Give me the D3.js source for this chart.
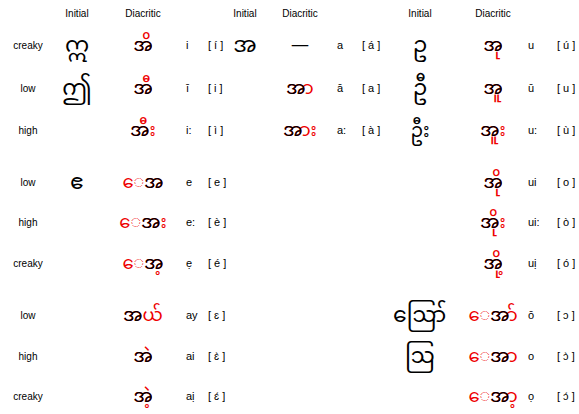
<!DOCTYPE html><html><head><meta charset="utf-8"><script src="https://cdn.jsdelivr.net/npm/d3@7"></script>
<style>body{margin:0;background:#fff}text{font-family:Arial,"Liberation Sans",sans-serif}</style></head><body>
<script>
const headers=[["Initial",77],["Diacritic",143],["Initial",245],["Diacritic",300],["Initial",420],["Diacritic",493]];
const rowLabels=["creaky","low","high","low","high","creaky","low","high","creaky"];
const rowY=[45,88,130,182,222,263,315,356,396];
// [row, group, initial, diacritic full text, roman, ipa]
const cells=[
[0,0,"ဣ","အိ","i","[ í ]"],
[1,0,"ဤ","အီ","ī","[ i ]"],
[2,0,"","အီး","i:","[ ì ]"],
[3,0,"ဧ","ေအ","e","[ e ]"],
[4,0,"","ေအး","e:","[ è ]"],
[5,0,"","ေအ့","ẹ","[ é ]"],
[6,0,"","အယ်","ay","[ ɛ ]"],
[7,0,"","အဲ","ai","[ ɛ̀ ]"],
[8,0,"","အဲ့","aị","[ ɛ́ ]"],
[0,1,"အ","—","a","[ á ]"],
[1,1,"","အာ","ā","[ a ]"],
[2,1,"","အား","a:","[ à ]"],
[0,2,"ဥ","အု","u","[ ú ]"],
[1,2,"ဦ","အူ","ū","[ u ]"],
[2,2,"ဦး","အူး","u:","[ ù ]"],
[3,2,"","အို","ui","[ o ]"],
[4,2,"","အိုး","ui:","[ ò ]"],
[5,2,"","အို့","uị","[ ó ]"],
[6,2,"ဪ","ေအာ်","ō","[ ɔ ]"],
[7,2,"ဩ","ေအာ","o","[ ɔ̀ ]"],
[8,2,"","ေအာ့","ọ","[ ɔ́ ]"]
];
const groupX=[{ini:77,dia:143,rom:186,ipa:208},{ini:245,dia:300,rom:337,ipa:362},{ini:420,dia:493,rom:528,ipa:557}];
const svg=d3.select("body").append("svg").attr("width",579).attr("height",414);
const y=d3.scaleOrdinal().domain(d3.range(9)).range(rowY);
svg.selectAll(".h").data(headers).join("text").attr("x",d=>d[1]).attr("y",17).attr("text-anchor","middle").attr("font-size",10).text(d=>d[0]);
svg.selectAll(".r").data(rowLabels).join("text").attr("x",28).attr("y",(d,i)=>y(i)+4).attr("text-anchor","middle").attr("font-size",10).text(d=>d);
const mm='"Noto Sans Myanmar","Padauk","Myanmar Text",sans-serif';
cells.forEach(d=>{
  const gx=groupX[d[1]], yy=y(d[0]);
  if(d[2]) svg.append("text").attr("x",gx.ini).attr("y",yy+7).attr("text-anchor","middle").attr("font-size",d[2].length>1?19:22).style("font-family",mm).text(d[2]);
  const t=svg.append("text").attr("x",gx.dia).attr("y",yy+6).attr("text-anchor","middle").attr("font-size",18).style("font-family",mm)
    .attr("fill",d[3]==="—"?"#000":"#e00").text(d[3]);
  const bi=d[3].indexOf("အ");
  if(bi>=0){
    let px=gx.dia;
    try{px=t.node().getStartPositionOfChar(bi).x;}catch(e){}
    svg.append("text").attr("x",px).attr("y",yy+6).attr("font-size",18).style("font-family",mm).attr("fill","#000").text("အ");
  }
  svg.append("text").attr("x",gx.rom).attr("y",yy+4).attr("font-size",11).text(d[4]);
  svg.append("text").attr("x",gx.ipa).attr("y",yy+4).attr("font-size",11).text(d[5]);
});
</script></body></html>
